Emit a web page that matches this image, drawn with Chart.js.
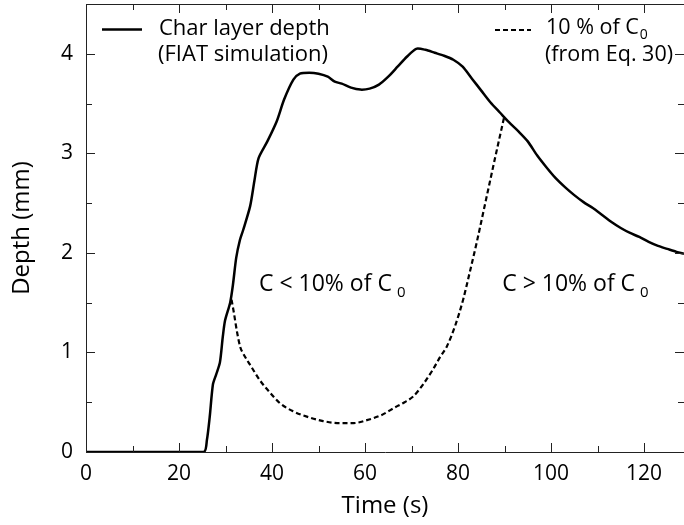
<!DOCTYPE html>
<html><head><meta charset="utf-8">
<script src="https://cdn.jsdelivr.net/npm/chart.js@4/dist/chart.umd.min.js"></script>
<style>html,body{margin:0;padding:0;background:#fff;overflow:hidden}#wrap{width:684px;height:525px;position:relative}</style>
</head><body><div id="wrap"><canvas id="c" width="684" height="525"></canvas></div>
<script>
// ---- data ----
const charTime  = [0, 25.3, 26.0, 26.6, 27.3, 28.0, 28.8, 29.4, 29.9, 31.0, 31.6, 32.3, 33.1, 33.8, 35.3, 36.2, 37.1, 39.0, 41.0, 42.6, 44.6, 46.0, 48.0, 50.0, 52.0, 53.5, 55.0, 57.0, 59.0, 61.0, 63.0, 65.0, 67.0, 69.0, 71.0, 73.0, 75.0, 77.0, 79.0, 81.0, 83.0, 85.0, 87.0, 89.0, 91.0, 93.0, 95.0, 97.0, 99.0, 101.0, 103.0, 105.0, 107.0, 109.0, 111.0, 113.0, 115.0, 117.0, 119.0, 121.0, 123.0, 125.0, 127.0, 128.6];
const charDepth = [0, 0, 0.12, 0.35, 0.68, 0.78, 0.90, 1.15, 1.32, 1.50, 1.68, 1.95, 2.13, 2.23, 2.47, 2.72, 2.95, 3.12, 3.32, 3.54, 3.74, 3.80, 3.81, 3.80, 3.77, 3.72, 3.70, 3.66, 3.64, 3.65, 3.69, 3.77, 3.87, 3.97, 4.05, 4.04, 4.01, 3.98, 3.94, 3.87, 3.75, 3.63, 3.51, 3.41, 3.31, 3.22, 3.12, 2.98, 2.86, 2.75, 2.66, 2.58, 2.51, 2.45, 2.38, 2.31, 2.25, 2.20, 2.16, 2.11, 2.07, 2.04, 2.01, 1.99];
const c10Time   = [31.3, 31.8, 32.5, 33.2, 33.8, 35.5, 37.4, 39.5, 41.7, 44.5, 47.5, 51.0, 54.6, 57.5, 60.4, 63.5, 66.5, 68.5, 70.4, 72.5, 74.5, 76.1, 77.6, 79.4, 81.1, 82.5, 84.0, 86.0, 88.0, 90.0];
const c10Depth  = [1.53, 1.40, 1.20, 1.05, 0.99, 0.86, 0.72, 0.60, 0.49, 0.41, 0.355, 0.31, 0.29, 0.29, 0.32, 0.37, 0.45, 0.50, 0.56, 0.68, 0.82, 0.95, 1.06, 1.27, 1.53, 1.80, 2.10, 2.53, 2.96, 3.38];
const xTickValues = [0, 20, 40, 60, 80, 100, 120];
const xMinorTickValues = [10, 30, 50, 70, 90, 110];
const yTickValues = [0, 1, 2, 3, 4];
const yMinorTickValues = [0.5, 1.5, 2.5, 3.5];
const xTitle = 'Time (s)';
const yTitle = 'Depth (mm)';
const seriesNames = ['Char layer depth', '10 % of C'];
const legendSecondLines = ['(FIAT simulation)', '(from Eq. 30)'];
const regionLabels = ['C < 10% of C', 'C > 10% of C'];
const regionLabelAnchors = [[37.2, 1.62], [89.5, 1.62]]; // data coords of text start / baseline

const FONT = "'Open Sans', 'Noto Sans', sans-serif";
const TXT = '#000';
const toPts = (xs, ys) => xs.map((x, i) => ({x: x, y: ys[i]}));

const decor = {
  id: 'decor',
  afterDatasetsDraw(chart) {
    const ctx = chart.ctx, ca = chart.chartArea;
    const xs = chart.scales.x, ys = chart.scales.y;
    ctx.save();
    ctx.strokeStyle = '#222';
    ctx.lineWidth = 1;
    ctx.beginPath();
    // top frame line
    ctx.moveTo(ca.left, ca.top + 0.5); ctx.lineTo(ca.right, ca.top + 0.5);
    const vx = (v, len) => {
      const p = Math.round(xs.getPixelForValue(v)) + 0.5;
      ctx.moveTo(p, ca.bottom); ctx.lineTo(p, ca.bottom - len);
      ctx.moveTo(p, ca.top); ctx.lineTo(p, ca.top + len);
    };
    const vy = (v, len) => {
      const p = Math.round(ys.getPixelForValue(v)) + 0.5;
      ctx.moveTo(ca.left, p); ctx.lineTo(ca.left + len, p);
      ctx.moveTo(ca.right, p); ctx.lineTo(ca.right - len, p);
    };
    xTickValues.forEach(v => vx(v, 9));
    xMinorTickValues.forEach(v => vx(v, 6));
    yTickValues.forEach(v => vy(v, 9));
    yMinorTickValues.forEach(v => vy(v, 6));
    ctx.stroke();

    // legend
    ctx.fillStyle = TXT;
    ctx.textBaseline = 'alphabetic';
    ctx.textAlign = 'left';
    ctx.font = '22px ' + FONT;
    ctx.lineWidth = 2.5;
    ctx.strokeStyle = '#000';
    ctx.setLineDash([]);
    ctx.beginPath(); ctx.moveTo(102, 29.5); ctx.lineTo(142, 29.5); ctx.stroke();
    ctx.fillText(seriesNames[0], 159, 35);
    ctx.fillText(legendSecondLines[0], 158, 61);
    ctx.lineWidth = 2;
    ctx.setLineDash([5, 3]);
    ctx.beginPath(); ctx.moveTo(495, 30); ctx.lineTo(531, 30); ctx.stroke();
    ctx.setLineDash([]);
    ctx.font = '21.5px ' + FONT;
    ctx.fillText(seriesNames[1], 546, 34);
    let w = ctx.measureText(seriesNames[1]).width;
    ctx.font = '14px ' + FONT;
    ctx.fillText('0', 546 + w + 1, 39);
    ctx.font = '21.5px ' + FONT;
    ctx.fillText(legendSecondLines[1], 545, 61);

    // region labels
    regionLabels.forEach((t, i) => {
      const px = xs.getPixelForValue(regionLabelAnchors[i][0]);
      const py = ys.getPixelForValue(regionLabelAnchors[i][1]);
      ctx.font = '23px ' + FONT;
      ctx.fillText(t, px, py);
      const tw = ctx.measureText(t).width;
      ctx.font = '15px ' + FONT;
      ctx.fillText('0', px + tw + 5, py + 6);
    });
    ctx.restore();
  }
};

const zeroPad = s => { s.paddingTop = 0; s.paddingBottom = 0; s.paddingLeft = 0; s.paddingRight = 0; };

new Chart(document.getElementById('c'), {
  type: 'line',
  data: {
    datasets: [
      {label: seriesNames[0], data: toPts(charTime, charDepth), borderColor: '#000', borderWidth: 2.5,
       pointRadius: 0, tension: 0.25, fill: false},
      {label: seriesNames[1], data: toPts(c10Time, c10Depth), borderColor: '#000', borderWidth: 2.2,
       borderDash: [5, 3], pointRadius: 0, cubicInterpolationMode: 'monotone', fill: false}
    ]
  },
  options: {
    responsive: false,
    devicePixelRatio: 1,
    animation: false,
    events: [],
    layout: {padding: {top: 4, right: 0, left: 0, bottom: 0}},
    plugins: {legend: {display: false}, tooltip: {enabled: false}},
    scales: {
      x: {
        type: 'linear', min: 0, max: 128.6,
        afterBuildTicks: s => { s.ticks = xTickValues.map(v => ({value: v})); },
        afterFit: s => { s.height = 73; zeroPad(s); },
        grid: {display: false, drawTicks: false},
        border: {display: true, color: '#222', width: 1},
        ticks: {autoSkip: false, maxRotation: 0, color: TXT, padding: 9,
                font: {family: FONT, size: 21}},
        title: {display: true, text: xTitle, color: TXT, font: {family: FONT, size: 24},
                padding: {top: 0, bottom: 4}}
      },
      y: {
        type: 'linear', min: 0, max: 4.5,
        afterBuildTicks: s => { s.ticks = yTickValues.map(v => ({value: v})); },
        afterFit: s => { s.width = 86; zeroPad(s); },
        grid: {display: false, drawTicks: false},
        border: {display: true, color: '#222', width: 1},
        ticks: {autoSkip: false, color: TXT, padding: 13,
                font: {family: FONT, size: 21}},
        title: {display: true, text: yTitle, color: TXT, font: {family: FONT, size: 24},
                padding: {top: 8, bottom: 0}}
      }
    }
  },
  plugins: [decor]
});
</script></body></html>
